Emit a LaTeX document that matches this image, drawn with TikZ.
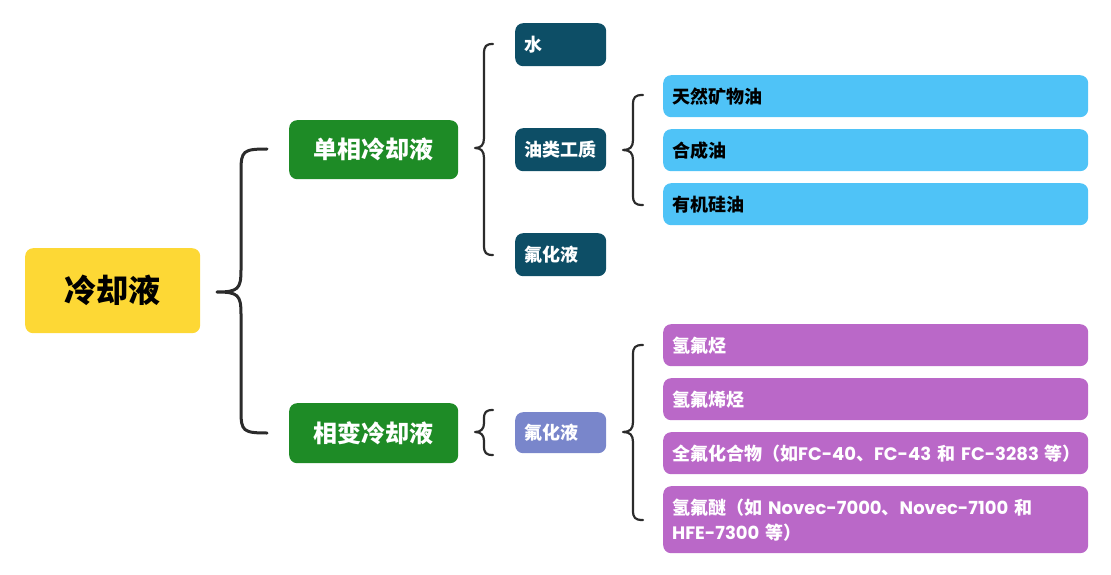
\documentclass[tikz,border=0pt]{standalone}
\usepackage{fontspec}
\setmainfont{Noto Sans CJK SC}
\newfontfamily\lat{Poppins}
\definecolor{cyellow}{HTML}{FDD835}
\definecolor{cgreen}{HTML}{1E8B26}
\definecolor{cteal}{HTML}{0D4E66}
\definecolor{clav}{HTML}{7986CB}
\definecolor{cblue}{HTML}{4FC3F7}
\definecolor{cpurple}{HTML}{BA68C8}
\definecolor{cbrace}{HTML}{2B2B2B}
\newcommand{\mybrace}[7]{% xl, xm, xr, yt, ym, yb, r
  \draw[bracelin] (#3,#4) .. controls ({#2+2},#4) and (#2,{#4+2}) .. ({#2},{#4+#7}) -- ({#2},{#5-#7})
    .. controls (#2,{#5-3}) and ({#2-3},#5) .. (#1,#5) .. controls ({#2-3},#5) and (#2,{#5+3}) .. ({#2},{#5+#7})
    -- ({#2},{#6-#7}) .. controls (#2,{#6-2}) and ({#2+2},#6) .. (#3,#6);}
\begin{document}
\begin{tikzpicture}[x=1pt,y=-1pt,
  box/.style={rounded corners=8pt, inner sep=0pt, anchor=north west, font=\bfseries},
  rootbox/.style={box, fill=cyellow, text=black, font=\bfseries\fontsize{32}{36}\selectfont},
  greenbox/.style={box, fill=cgreen, text=white, font=\bfseries\fontsize{24}{28}\selectfont},
  tealbox/.style={box, fill=cteal, text=white, align=left, text width=73pt, inner xsep=9pt,
    font=\bfseries\fontsize{18}{22}\selectfont},
  lavbox/.style={tealbox, fill=clav},
  bluebox/.style={box, fill=cblue, text=black, align=left, text width=407pt, inner xsep=9pt,
    font=\bfseries\fontsize{18}{22}\selectfont},
  purplebox/.style={bluebox, fill=cpurple, text=white, font=\bfseries\fontsize{18}{25}\selectfont},
  bracelin/.style={draw=cbrace, line width=2.2pt, line cap=round, line join=round}]
\useasboundingbox (0,0) rectangle (1111,575);

\node[rootbox, minimum width=175pt, minimum height=85pt] (root) at (25,248) {冷却液};
\node[greenbox, minimum width=169pt, minimum height=59pt] (single) at (289,120) {单相冷却液};
\node[greenbox, minimum width=169pt, minimum height=60pt] (phase) at (289,403) {相变冷却液};

\node[tealbox, minimum height=43pt] (water) at (515,23) {水};
\node[tealbox, minimum height=43pt] (oil) at (515,128) {油类工质};
\node[tealbox, minimum height=43pt] (fluo1) at (515,233) {氟化液};
\node[lavbox, minimum height=41pt] (fluo2) at (515,412) {氟化液};

\node[bluebox, minimum height=42pt] (b1) at (663,75) {天然矿物油};
\node[bluebox, minimum height=42pt] (b2) at (663,129) {合成油};
\node[bluebox, minimum height=42pt] (b3) at (663,183) {有机硅油};

\node[purplebox, minimum height=42pt] (p1) at (663,324) {氢氟烃};
\node[purplebox, minimum height=42pt] (p2) at (663,378) {氢氟烯烃};
\node[purplebox, minimum height=42pt] (p3) at (663,432) {\makebox[407pt][l]{全氟化合物（如{\lat FC-40}、{\lat FC-43} 和 {\lat FC-3283} 等）}};
\node[purplebox, minimum height=67pt] (p4) at (663,486) {氢氟醚（如 {\lat Novec-7000}、{\lat Novec-7100} 和\\{\lat HFE-7300} 等）};

\begin{scope}[bracelin/.append style={line width=3pt}]
\mybrace{217}{241}{267}{149}{292}{433}{22}
\end{scope}
\mybrace{475}{484}{493}{44}{148}{255}{10}
\mybrace{475}{484}{493}{410}{432}{455}{9}
\mybrace{623}{633}{643}{95}{150}{205}{10}
\mybrace{623}{633}{643}{345}{432}{520}{10}
\end{tikzpicture}
\end{document}
